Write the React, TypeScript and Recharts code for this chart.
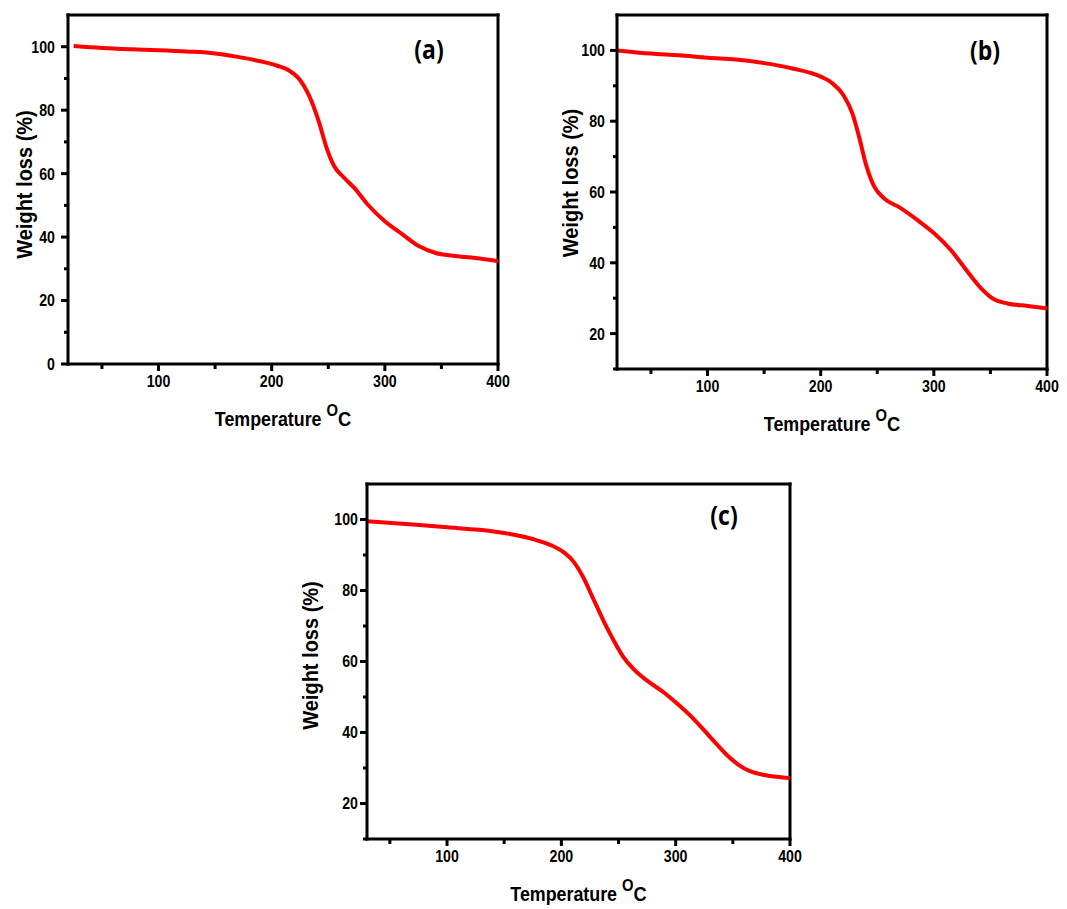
import React from 'react';
import { LineChart, Line, XAxis, YAxis, ReferenceLine } from 'recharts';

// TGA curves: temperature (°C) and remaining weight (%)
const tempA = [25, 50, 75, 100, 125, 150, 170, 190, 205, 215, 225, 235, 242, 248, 255, 264, 273, 285, 300, 315, 330, 345, 360, 380, 400];
const lossA = [100.2, 99.6, 99.2, 98.9, 98.5, 97.9, 96.8, 95.4, 94, 92.6, 89.5, 83, 76, 68.7, 62.5, 58.7, 55.5, 50.2, 45, 41, 37.2, 35, 34.1, 33.4, 32.4];

const tempB = [20, 50, 75, 100, 125, 150, 175, 200, 210, 220, 228, 234, 240, 247, 256, 270, 285, 300, 315, 330, 342, 352, 365, 383, 400];
const lossB = [100, 99.1, 98.6, 97.9, 97.4, 96.4, 94.9, 92.6, 90.8, 87.4, 82.2, 75.5, 67.8, 61.7, 58.2, 55.6, 52.2, 48.4, 43.6, 37.4, 32.7, 29.9, 28.5, 27.8, 27.1];

const tempC = [30, 70, 100, 128, 150, 175, 192, 202, 211, 219, 228, 237, 246, 254, 263, 275, 290, 300, 313, 325, 335, 345, 355, 365, 380, 400];
const lossC = [99.5, 98.6, 97.8, 97.1, 96.2, 94.5, 92.6, 90.8, 88, 83.8, 77.6, 71.4, 65.8, 61.4, 57.9, 54.6, 51.2, 48.5, 44.7, 40.6, 37, 33.6, 30.9, 29.1, 27.9, 27.2];

const xTicks = [50, 100, 150, 200, 250, 300, 350, 400];
const yTicksA = [0, 10, 20, 30, 40, 50, 60, 70, 80, 90, 100];
const yTicksBC = [10, 20, 30, 40, 50, 60, 70, 80, 90, 100];

const tags = ['(a)', '(b)', '(c)'];

const FONT = '"Liberation Sans", Arial, Helvetica, sans-serif';
const TAG_FONT = '"Open Sans", "Noto Sans", sans-serif';
const SQ = 0.86; // the source figure is a bit squeezed horizontally
const axisStyle = { stroke: '#000', strokeWidth: 3, strokeLinecap: 'square' as const };

type PanelCfg = {
  tag: string;
  temps: number[];
  loss: number[];
  left: number;
  top: number;
  width: number;
  height: number;
  margin: { top: number; right: number; bottom: number; left: number };
  yAxisW: number;
  xAxisH: number;
  xDomain: [number, number];
  yDomain: [number, number];
  yTicks: number[];
  yLabelGap: number;
  yTitleX: number;
  yTitleDy: number;
  tagDx: number;
  tagDy: number;
};

const panels: PanelCfg[] = [
  {
    tag: tags[0], temps: tempA, loss: lossA,
    left: 0, top: 0, width: 520, height: 440,
    margin: { top: 15, right: 22, bottom: 0, left: 0 },
    yAxisW: 68, xAxisH: 76,
    xDomain: [20, 400], yDomain: [0, 110], yTicks: yTicksA,
    yLabelGap: 13, yTitleX: -36, yTitleDy: -5, tagDx: -69, tagDy: 44,
  },
  {
    tag: tags[1], temps: tempB, loss: lossB,
    left: 540, top: 0, width: 527, height: 440,
    margin: { top: 15, right: 20, bottom: 0, left: 0 },
    yAxisW: 77, xAxisH: 71,
    xDomain: [20, 400], yDomain: [10, 110], yTicks: yTicksBC,
    yLabelGap: 12, yTitleX: -39, yTitleDy: -9, tagDx: -62, tagDy: 45,
  },
  {
    tag: tags[2], temps: tempC, loss: lossC,
    left: 280, top: 470, width: 540, height: 439,
    margin: { top: 14, right: 30, bottom: 0, left: 0 },
    yAxisW: 87, xAxisH: 70,
    xDomain: [30, 400], yDomain: [10, 110], yTicks: yTicksBC,
    yLabelGap: 9, yTitleX: -49, yTitleDy: -6, tagDx: -66, tagDy: 41,
  },
];

function XTick(props: any) {
  const { x, y, payload } = props;
  const major = payload.value % 100 === 0;
  return (
    <g>
      <line x1={x} x2={x} y1={y} y2={y + (major ? 7 : 5)} stroke="#000" strokeWidth={3} />
      {major && (
        <text
          transform={`translate(${x},${y + 23}) scale(${SQ},1)`}
          textAnchor="middle"
          fontFamily={FONT}
          fontWeight="bold"
          fontSize={16.5}
          fill="#000"
        >
          {payload.value}
        </text>
      )}
    </g>
  );
}

function YTick(props: any) {
  const { x, y, payload, gap } = props;
  const major = payload.value % 20 === 0;
  return (
    <g>
      <line x1={x - (major ? 7 : 4)} x2={x} y1={y} y2={y} stroke="#000" strokeWidth={3} />
      {major && (
        <text
          transform={`translate(${x - gap},${y}) scale(${SQ},1)`}
          dy="0.36em"
          textAnchor="end"
          fontFamily={FONT}
          fontWeight="bold"
          fontSize={16.5}
          fill="#000"
        >
          {payload.value}
        </text>
      )}
    </g>
  );
}

function TgaPanel({ p }: { p: PanelCfg }) {
  const data = p.temps.map((t, i) => ({ t, w: p.loss[i] }));
  const plotLeft = p.margin.left + p.yAxisW;
  const plotRight = p.width - p.margin.right;
  const plotTop = p.margin.top;
  const plotBottom = p.height - p.margin.bottom - p.xAxisH;
  const cx = (plotLeft + plotRight) / 2;
  const cy = (plotTop + plotBottom) / 2;

  const xTitle = () => (
    <text
      transform={`translate(${cx},${plotBottom + 62}) scale(0.87,1)`}
      textAnchor="middle"
      fontFamily={FONT}
      fontWeight="bold"
      fontSize={20.5}
      fill="#000"
    >
      Temperature{' '}
      <tspan fontSize={17} dy={-10}>O</tspan>
      <tspan fontSize={21} dy={10}>C</tspan>
    </text>
  );

  const yTitle = () => (
    <text
      transform={`translate(${plotLeft + p.yTitleX},${cy + p.yTitleDy}) rotate(-90) scale(0.91,1)`}
      textAnchor="middle"
      fontFamily={FONT}
      fontWeight="bold"
      fontSize={22}
      fill="#000"
    >
      Weight loss (%)
    </text>
  );

  const tagLabel = () => (
    <text
      transform={`translate(${plotRight + p.tagDx},${plotTop + p.tagDy}) scale(0.85,1)`}
      textAnchor="middle"
      fontFamily={TAG_FONT}
      fontWeight="bold"
      fontSize={27}
      fill="#000"
    >
      {p.tag}
    </text>
  );

  return (
    <div style={{ position: 'absolute', left: p.left, top: p.top }}>
      <LineChart width={p.width} height={p.height} data={data} margin={p.margin}>
        <XAxis
          dataKey="t"
          type="number"
          domain={p.xDomain}
          ticks={xTicks}
          interval={0}
          allowDataOverflow
          height={p.xAxisH}
          tickSize={0}
          tickMargin={0}
          tickLine={false}
          axisLine={axisStyle}
          tick={(props: any) => <XTick {...props} />}
          label={xTitle}
        />
        <YAxis
          type="number"
          domain={p.yDomain}
          ticks={p.yTicks}
          interval={0}
          allowDataOverflow
          width={p.yAxisW}
          tickSize={0}
          tickMargin={0}
          tickLine={false}
          axisLine={axisStyle}
          tick={(props: any) => <YTick {...props} gap={p.yLabelGap} />}
          label={yTitle}
        />
        {/* closing frame: top and right edges */}
        <ReferenceLine y={p.yDomain[1]} stroke="#000" strokeWidth={3} strokeLinecap="square" label={tagLabel} />
        <ReferenceLine x={p.xDomain[1]} stroke="#000" strokeWidth={3} strokeLinecap="square" />
        <Line
          type="monotone"
          dataKey="w"
          stroke="#ff0000"
          strokeWidth={4}
          dot={false}
          activeDot={false}
          isAnimationActive={false}
        />
      </LineChart>
    </div>
  );
}

export default function App() {
  return (
    <div style={{ position: 'absolute', left: 0, top: 0, width: 1067, height: 909, background: '#fff' }}>
      {panels.map((p) => (
        <TgaPanel key={p.tag} p={p} />
      ))}
    </div>
  );
}
